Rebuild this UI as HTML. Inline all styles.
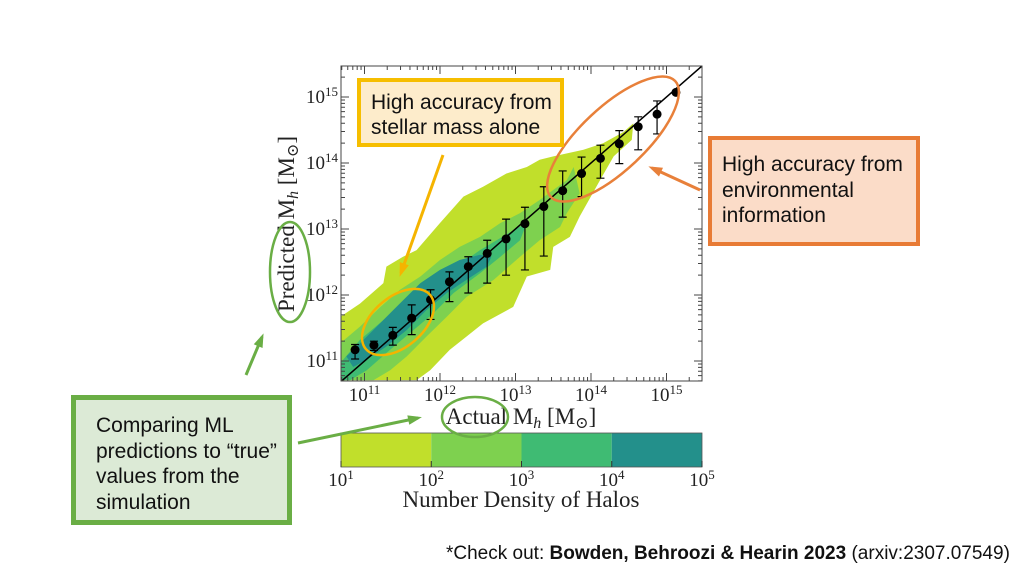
<!DOCTYPE html>
<html><head><meta charset="utf-8"><style>
body{margin:0;background:#fff;width:1024px;height:576px;overflow:hidden;position:relative;font-family:"Liberation Sans",sans-serif}
.box{position:absolute;box-sizing:border-box;color:#111;font-size:21px;line-height:25.5px;white-space:nowrap}
</style></head><body>
<svg id="chart" width="1024" height="576" style="position:absolute;left:0;top:0" xmlns="http://www.w3.org/2000/svg"></svg>
<div class="box" style="left:357px;top:78px;width:207px;height:69px;background:#fdeccb;border:4px solid #f6be00;padding:8px 0 0 10px;line-height:25px">High accuracy from<br>stellar mass alone</div>
<div class="box" style="left:708px;top:136px;width:212px;height:110px;background:#fbdcc8;border:4px solid #e87b35;padding:12px 0 0 10px">High accuracy from<br>environmental<br>information</div>
<div class="box" style="left:71px;top:395px;width:221px;height:130px;background:#dcead6;border:5px solid #6aae45;padding:13px 0 0 20px">Comparing ML<br>predictions to “true”<br>values from the<br>simulation</div>
<div style="position:absolute;left:446px;top:543px;font-size:19px;color:#111;white-space:nowrap">*Check out: <b>Bowden, Behroozi &amp; Hearin 2023</b> (arxiv:2307.07549)</div>
<script>
const xLog=[10.875,11.125,11.375,11.625,11.875,12.125,12.375,12.625,12.875,13.125,13.375,13.625,13.875,14.125,14.375,14.625,14.875,15.125];
const yLog=[11.17,11.24,11.39,11.65,11.93,12.20,12.43,12.63,12.85,13.08,13.34,13.58,13.84,14.07,14.29,14.55,14.74,15.07];
const errLo=[0.14,0.08,0.15,0.25,0.3,0.3,0.4,0.45,0.55,0.7,0.75,0.4,0.35,0.3,0.3,0.35,0.3,0];
const errHi=[0.08,0.06,0.12,0.2,0.15,0.15,0.15,0.2,0.3,0.25,0.3,0.3,0.25,0.2,0.2,0.15,0.2,0];
const contourOuter=[[10.68,10.71],[10.68,11.67],[10.94,11.87],[11.25,12.18],[11.29,12.43],[11.51,12.58],[11.69,12.68],[12.00,13.09],[12.31,13.49],[12.57,13.64],[12.88,13.84],[13.15,13.94],[13.32,14.05],[13.50,14.10],[13.90,14.20],[14.16,14.30],[14.43,14.47],[14.56,14.60],[14.54,14.35],[14.30,14.10],[14.12,13.74],[13.85,13.19],[13.72,12.88],[13.50,12.73],[13.46,12.38],[13.15,12.28],[12.97,11.82],[12.57,11.57],[12.35,11.37],[12.13,11.17],[11.87,10.86],[11.69,10.71]];
const contourMid=[[10.68,11.27],[10.94,11.52],[11.21,11.82],[11.47,12.08],[11.74,12.28],[12.00,12.53],[12.26,12.73],[12.53,12.88],[12.80,13.09],[13.06,13.24],[13.32,13.44],[13.50,13.59],[13.68,13.74],[13.77,13.94],[13.85,13.54],[13.68,13.24],[13.59,13.03],[13.32,12.83],[13.06,12.58],[12.71,12.23],[12.35,11.97],[12.09,11.67],[11.82,11.37],[11.56,11.07],[11.34,10.86],[11.12,10.71],[10.68,10.71]];
const contourInner=[[10.68,10.97],[10.94,11.32],[11.25,11.62],[11.56,11.92],[11.91,12.18],[12.22,12.43],[12.53,12.68],[12.75,12.83],[12.97,12.98],[13.15,13.09],[13.06,12.83],[12.80,12.58],[12.53,12.33],[12.18,12.03],[11.91,11.72],[11.65,11.47],[11.34,11.17],[11.03,10.86],[10.81,10.71],[10.68,10.71]];
const contourCore=[[10.76,11.07],[11.03,11.37],[11.38,11.77],[11.74,12.18],[12.00,12.38],[12.26,12.53],[12.53,12.61],[12.68,12.58],[12.62,12.43],[12.35,12.23],[12.09,12.03],[11.82,11.77],[11.56,11.47],[11.29,11.22],[11.03,11.02],[10.85,10.91]];
const majorTicks=[11,12,13,14,15];
const cbTicks=[1,2,3,4,5];
const cbColors=["#c1df2b","#7ed14f","#3fbb73","#23908b"];

const svg=document.getElementById('chart');
const NS='http://www.w3.org/2000/svg';
const L=341,R=702,T=66,B=381;
const X=v=>364.5+(v-11)*75.5, Y=v=>361-(v-11)*66;
function mk(tag,attrs,parent){const e=document.createElementNS(NS,tag);for(const k in attrs)e.setAttribute(k,attrs[k]);(parent||svg).appendChild(e);return e;}
const clip=mk('clipPath',{id:'pc'});mk('rect',{x:L,y:T,width:R-L,height:B-T},clip);
const g=mk('g',{'clip-path':'url(#pc)'});


[[contourOuter,cbColors[0],'contour-10'],[contourMid,cbColors[1],'contour-100'],[contourInner,cbColors[2],'contour-1000'],[contourCore,cbColors[3],'contour-10000']].forEach(([p,c,n])=>{
 const e=mk('polygon',{points:p.map(q=>X(q[0])+','+Y(q[1])).join(' '),fill:c},g);
 
 
});
const ln=mk('line',{x1:X(10.5),y1:Y(10.5),x2:X(15.6),y2:Y(15.6),stroke:'#000','stroke-width':1.5},g);


xLog.forEach((x,i)=>{
 const cx=X(x),cy=Y(yLog[i]);
 if(errLo[i]>0){
  const eb=mk('path',{d:`M${cx},${Y(yLog[i]-errLo[i])}V${Y(yLog[i]+errHi[i])}M${cx-4},${Y(yLog[i]-errLo[i])}h8M${cx-4},${Y(yLog[i]+errHi[i])}h8`,stroke:'#000','stroke-width':1.2,fill:'none'},g);
  
  
 }
 const c=mk('circle',{cx:cx,cy:cy,r:4.5,fill:'#000'},g);
 
 
});
const fr=mk('rect',{x:L,y:T,width:R-L,height:B-T,fill:'none',stroke:'#444','stroke-width':1});


let tk='';
for(let d=10;d<=15;d++)for(let m=1;m<10;m++){const v=d+Math.log10(m);const len=m==1?8:4;
 const px=X(v);if(px>=L&&px<=R){tk+=`M${px},${B}v${-len}M${px},${T}v${len}`;}
 const py=Y(v);if(py>=T&&py<=B){tk+=`M${L},${py}h${len}M${R},${py}h${-len}`;}}
mk('path',{d:tk,stroke:'#444','stroke-width':1,fill:'none'});
const serif='"Liberation Serif","DejaVu Serif",serif';
majorTicks.forEach(t=>{
 const a=mk('text',{x:X(t),y:401,'text-anchor':'middle','font-family':serif,'font-size':19,fill:'#222'});
 a.innerHTML=`10<tspan dy="-7" font-size="13">${t}</tspan>`;
 
 
 const b=mk('text',{x:338,y:Y(t)+6,'text-anchor':'end','font-family':serif,'font-size':19,fill:'#222'});
 b.innerHTML=`10<tspan dy="-7" font-size="13">${t}</tspan>`;
 
 
});
const xt=mk('text',{x:521,y:424,'text-anchor':'middle','font-family':serif,'font-size':23,fill:'#222'});
xt.innerHTML='Actual M<tspan font-style="italic" font-size="16" dy="4">h</tspan><tspan dy="-4"> [M</tspan><tspan font-size="16" dy="4">⊙</tspan><tspan dy="-4">]</tspan>';


const yt=mk('text',{x:0,y:0,'text-anchor':'middle','font-family':serif,'font-size':23,fill:'#222',transform:'translate(294,224) rotate(-90)'});
yt.innerHTML='Predicted M<tspan font-style="italic" font-size="16" dy="4">h</tspan><tspan dy="-4"> [M</tspan><tspan font-size="16" dy="4">⊙</tspan><tspan dy="-4">]</tspan>';


const CBX=v=>341+(v-1)*90.25;
cbColors.forEach((c,i)=>{
 const r=mk('rect',{x:CBX(cbTicks[i]),y:433,width:90.25,height:34,fill:c});
 
 
});
mk('rect',{x:341,y:433,width:361,height:34,fill:'none',stroke:'#555','stroke-width':0.8});
cbTicks.forEach(t=>{
 mk('line',{x1:CBX(t),y1:467,x2:CBX(t),y2:461,stroke:'#333'});
 const a=mk('text',{x:CBX(t),y:486,'text-anchor':'middle','font-family':serif,'font-size':19,fill:'#222'});
 a.innerHTML=`10<tspan dy="-7" font-size="13">${t}</tspan>`;
 
 
});
const ct=mk('text',{x:521,y:507,'text-anchor':'middle','font-family':serif,'font-size':23,fill:'#222'});
ct.textContent='Number Density of Halos';


const e1=mk('ellipse',{cx:398,cy:322,rx:42,ry:25,fill:'none',stroke:'#f5b400','stroke-width':2.5,transform:'rotate(-40 398 322)'});

const e2=mk('ellipse',{cx:613,cy:139,rx:85,ry:32,fill:'none',stroke:'#e8803a','stroke-width':2.5,transform:'rotate(-43 613 139)'});

const e3=mk('ellipse',{cx:290,cy:272,rx:20,ry:50,fill:'none',stroke:'#6aae45','stroke-width':2.5});

const e4=mk('ellipse',{cx:475,cy:417,rx:33,ry:20,fill:'none',stroke:'#6aae45','stroke-width':2.5});

function arrow(x1,y1,x2,y2,c,n){const gg=mk('g',{});
 mk('line',{x1,y1,x2,y2,stroke:c,'stroke-width':3},gg);
 const a=Math.atan2(y2-y1,x2-x1),s=11;
 mk('polygon',{points:`${x2+4*Math.cos(a)},${y2+4*Math.sin(a)} ${x2-s*Math.cos(a-0.45)},${y2-s*Math.sin(a-0.45)} ${x2-s*Math.cos(a+0.45)},${y2-s*Math.sin(a+0.45)}`,fill:c},gg);}
arrow(443,155,401,273,'#f5b400','yellow-arrow');
arrow(700,190,652,168,'#e8803a','orange-arrow');
arrow(246,375,262,337,'#6aae45','green-arrow-up');
arrow(298,443,418,418,'#6aae45','green-arrow-right');
</script>
</body></html>
